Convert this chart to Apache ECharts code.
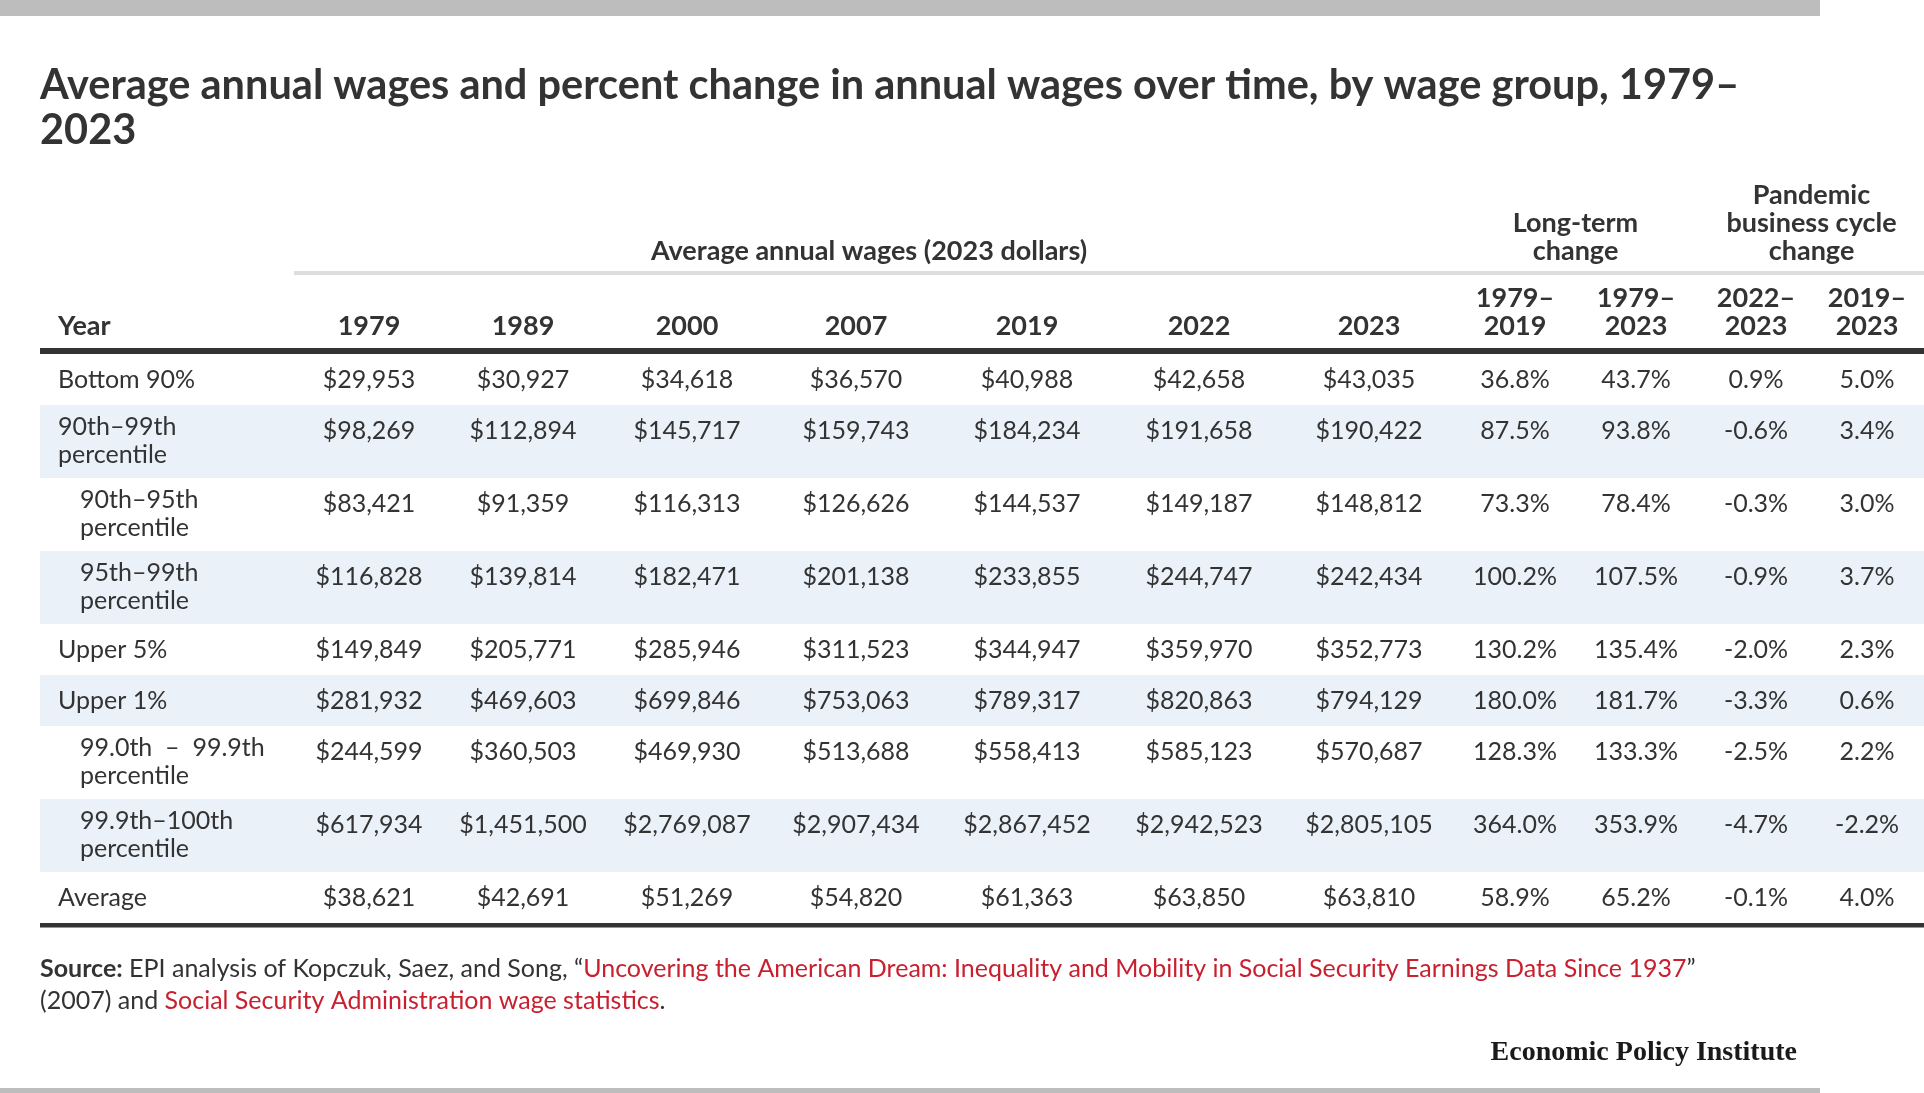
<!DOCTYPE html>
<html>
<head>
<meta charset="utf-8">
<title>Average annual wages by wage group, 1979–2023</title>
<script src="https://cdn.jsdelivr.net/npm/echarts@6/dist/echarts.min.js"></script>
<style>
  html, body { margin: 0; padding: 0; background: #fff; }
  #chart { width: 1924px; height: 1093px; }
</style>
</head>
<body>
<div id="chart"></div>
<script>
// Column headers
const wageYears = ['1979', '1989', '2000', '2007', '2019', '2022', '2023'];
const changeHeads = ['1979–\n2019', '1979–\n2023', '2022–\n2023', '2019–\n2023'];

// Row labels (wage groups)
const groups = [
  'Bottom 90%',
  '90th–99th\npercentile',
  '90th–95th\npercentile',
  '95th–99th\npercentile',
  'Upper 5%',
  'Upper 1%',
  '99.0th  –  99.9th\npercentile',
  '99.9th–100th\npercentile',
  'Average'
];

// Average annual wages (2023 dollars), one array per year
const wages1979 = [29953, 98269, 83421, 116828, 149849, 281932, 244599, 617934, 38621];
const wages1989 = [30927, 112894, 91359, 139814, 205771, 469603, 360503, 1451500, 42691];
const wages2000 = [34618, 145717, 116313, 182471, 285946, 699846, 469930, 2769087, 51269];
const wages2007 = [36570, 159743, 126626, 201138, 311523, 753063, 513688, 2907434, 54820];
const wages2019 = [40988, 184234, 144537, 233855, 344947, 789317, 558413, 2867452, 61363];
const wages2022 = [42658, 191658, 149187, 244747, 359970, 820863, 585123, 2942523, 63850];
const wages2023 = [43035, 190422, 148812, 242434, 352773, 794129, 570687, 2805105, 63810];

// Percent changes
const change1979to2019 = [36.8, 87.5, 73.3, 100.2, 130.2, 180.0, 128.3, 364.0, 58.9];
const change1979to2023 = [43.7, 93.8, 78.4, 107.5, 135.4, 181.7, 133.3, 353.9, 65.2];
const change2022to2023 = [0.9, -0.6, -0.3, -0.9, -2.0, -3.3, -2.5, -4.7, -0.1];
const change2019to2023 = [5.0, 3.4, 3.0, 3.7, 2.3, 0.6, 2.2, -2.2, 4.0];

const wageCols = [wages1979, wages1989, wages2000, wages2007, wages2019, wages2022, wages2023];
const changeCols = [change1979to2019, change1979to2023, change2022to2023, change2019to2023];

// Layout
const FONT = 'Lato';
const INK = '#333333';
const BAND = '#eaf1f9';
const RED = '#c8202f';
const colX = [369, 523, 687, 856, 1027, 1199, 1369, 1515, 1636, 1756, 1867];
const indent = [0, 0, 1, 1, 0, 0, 1, 1, 0];
const lineCount = groups.map(g => g.split('\n').length);
const rowH = lineCount.map(n => (n > 1 ? 73 : 51));
const rowTop = [];
let tableH = 0;
rowH.forEach(h => { rowTop.push(tableH); tableH += h; });

const fmtWage = v => '$' + v.toLocaleString('en-US');
const fmtPct = v => v.toFixed(1) + '%';

function headerText(v) {
  const i = colX.indexOf(v);
  if (i < 0) return '';
  return i < wageYears.length ? wageYears[i] : changeHeads[i - wageYears.length];
}

function cellText(c, r) {
  if (c < wageCols.length) return fmtWage(wageCols[c][r]);
  return fmtPct(changeCols[c - wageCols.length][r]);
}

const cellData = [];
colX.forEach((x, c) => {
  groups.forEach((g, r) => cellData.push([c, r]));
});

const chart = echarts.init(document.getElementById('chart'));

chart.setOption({
  backgroundColor: '#fff',
  animation: false,
  title: {
    text: 'Average annual wages and percent change in annual wages over time, by wage group, 1979–\n2023',
    left: 40,
    top: 63,
    padding: 0,
    textStyle: {
      fontFamily: FONT,
      fontWeight: 'bold',
      fontSize: 41.5,
      lineHeight: 45,
      color: INK
    }
  },
  grid: {
    left: 40,
    right: 0,
    top: 354,
    height: tableH
  },
  xAxis: {
    type: 'value',
    min: 40,
    max: 1924,
    position: 'top',
    offset: 3,
    axisLine: { show: false },
    axisTick: { show: false },
    splitLine: { show: false },
    axisLabel: {
      show: true,
      customValues: colX,
      formatter: headerText,
      margin: 11,
      fontFamily: FONT,
      fontWeight: 'bold',
      fontSize: 27,
      lineHeight: 28,
      color: INK
    }
  },
  yAxis: {
    type: 'value',
    inverse: true,
    min: 0,
    max: tableH,
    show: false
  },
  series: [
    {
      // alternate row shading
      type: 'custom',
      silent: true,
      data: groups.map((g, i) => [i]),
      renderItem: (params, api) => {
        const i = api.value(0);
        if (i % 2 === 0) return null;
        const p0 = api.coord([40, rowTop[i]]);
        const p1 = api.coord([1924, rowTop[i] + rowH[i]]);
        return {
          type: 'rect',
          shape: { x: p0[0], y: p0[1], width: p1[0] - p0[0], height: p1[1] - p0[1] },
          style: { fill: BAND }
        };
      }
    },
    {
      // row labels
      type: 'custom',
      silent: true,
      data: groups.map((g, i) => [i]),
      renderItem: (params, api) => {
        const i = api.value(0);
        const firstLine = lineCount[i] > 1 ? 22 : 26;
        const p = api.coord([indent[i] ? 80 : 58, rowTop[i] + firstLine - 14]);
        return {
          type: 'text',
          style: {
            text: groups[i],
            x: p[0],
            y: p[1],
            fill: INK,
            fontFamily: FONT,
            fontSize: 25,
            lineHeight: 28,
            align: 'left',
            verticalAlign: 'top',
            textAlign: 'left',
            textVerticalAlign: 'top'
          }
        };
      }
    },
    {
      // table cells
      type: 'custom',
      silent: true,
      data: cellData,
      renderItem: (params, api) => {
        const c = api.value(0);
        const r = api.value(1);
        const p = api.coord([colX[c], rowTop[r] + 26]);
        return {
          type: 'text',
          style: {
            text: cellText(c, r),
            x: p[0],
            y: p[1],
            fill: INK,
            fontFamily: FONT,
            fontSize: 25,
            align: 'center',
            verticalAlign: 'middle',
            textAlign: 'center',
            textVerticalAlign: 'middle'
          }
        };
      }
    }
  ]
});

// Group headings and rules placed from the axis scales
const px = v => chart.convertToPixel({ xAxisIndex: 0 }, v);
const py = v => chart.convertToPixel({ yAxisIndex: 0 }, v);
const tableLeft = px(40);
const tableRight = px(1924);
const tableTop = py(0);
const tableBottom = py(tableH);

const headStyle = {
  fill: INK,
  fontFamily: FONT,
  fontWeight: 'bold',
  fontSize: 27,
  lineHeight: 28,
  align: 'center',
  verticalAlign: 'bottom',
  textAlign: 'center',
  textVerticalAlign: 'bottom'
};

chart.setOption({
  graphic: [
    { type: 'rect', shape: { x: 0, y: 0, width: 1820, height: 16 }, style: { fill: '#bdbdbd' }, silent: true },
    { type: 'rect', shape: { x: 0, y: 1088, width: 1820, height: 5 }, style: { fill: '#bdbdbd' }, silent: true },
    { type: 'rect', shape: { x: 294, y: 271, width: 1630, height: 4 }, style: { fill: '#dddddd' }, silent: true },
    { type: 'rect', shape: { x: tableLeft, y: tableTop - 6, width: tableRight - tableLeft, height: 6 }, style: { fill: INK }, silent: true },
    { type: 'rect', shape: { x: tableLeft, y: tableBottom, width: tableRight - tableLeft, height: 4.5 }, style: { fill: INK }, silent: true },
    {
      type: 'text', x: (px(colX[0]) + px(colX[6])) / 2, y: 265,
      style: Object.assign({ text: 'Average annual wages (2023 dollars)' }, headStyle)
    },
    {
      type: 'text', x: (px(colX[7]) + px(colX[8])) / 2, y: 265,
      style: Object.assign({ text: 'Long-term\nchange' }, headStyle)
    },
    {
      type: 'text', x: (px(colX[9]) + px(colX[10])) / 2, y: 265,
      style: Object.assign({ text: 'Pandemic\nbusiness cycle\nchange' }, headStyle)
    },
    {
      type: 'text', x: 58, y: 326,
      style: Object.assign({}, headStyle, { text: 'Year', align: 'left', textAlign: 'left', verticalAlign: 'middle', textVerticalAlign: 'middle' })
    },
    {
      type: 'text', x: 40, y: 953,
      style: {
        text: '{b|Source:} {n|EPI analysis of Kopczuk, Saez, and Song, “}{r|Uncovering the American Dream: Inequality and Mobility in Social Security Earnings Data Since 1937}{n|”}\n{n|(2007) and }{r|Social Security Administration wage statistics}{n|.}',
        fontFamily: FONT,
        fontSize: 25,
        lineHeight: 32,
        fill: INK,
        align: 'left',
        verticalAlign: 'top',
        rich: {
          b: { fontFamily: FONT, fontSize: 25, lineHeight: 32, fontWeight: 'bold', fill: INK, color: INK },
          n: { fontFamily: FONT, fontSize: 25, lineHeight: 32, fill: INK, color: INK },
          r: { fontFamily: FONT, fontSize: 25, lineHeight: 32, fill: RED, color: RED }
        }
      }
    },
    {
      type: 'text', x: 1797, y: 1053,
      style: {
        text: 'Economic Policy Institute',
        fontFamily: 'Liberation Serif',
        fontWeight: 'bold',
        fontSize: 28,
        fill: '#1a1a1a',
        align: 'right',
        verticalAlign: 'middle',
        textAlign: 'right',
        textVerticalAlign: 'middle'
      }
    }
  ]
});
</script>
</body>
</html>
